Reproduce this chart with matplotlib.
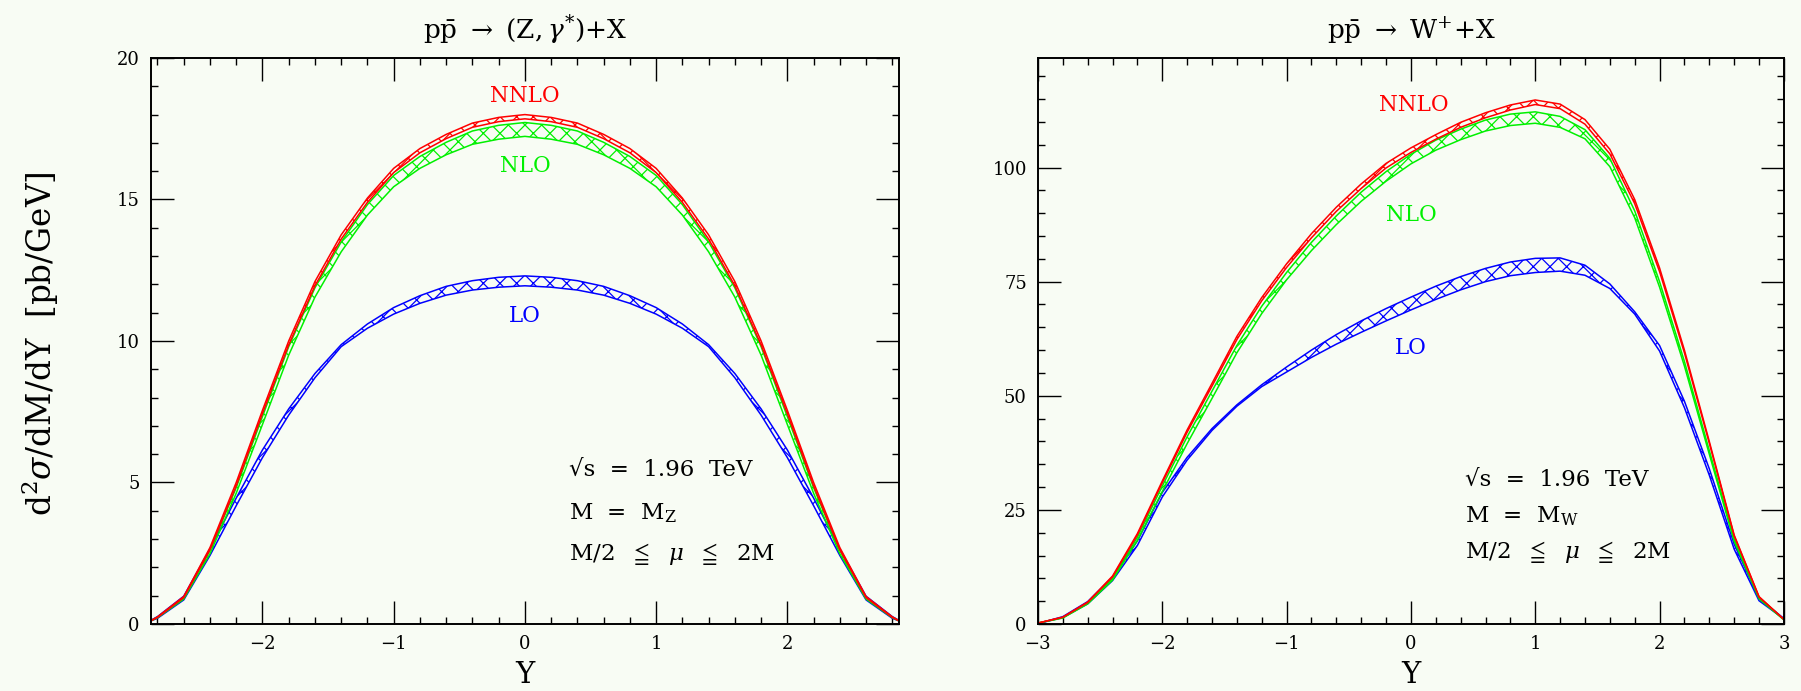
import matplotlib
matplotlib.use("Agg")
import matplotlib.pyplot as plt
from matplotlib.ticker import MultipleLocator

plt.rcParams['font.family'] = ['DejaVu Serif', 'DejaVu Sans']
plt.rcParams['mathtext.fontset'] = 'dejavuserif'
plt.rcParams['hatch.linewidth'] = 0.9

BG = '#f8fcf4'
RED, GREEN, BLUE = '#ff0000', '#00f000', '#0000ff'

# ---- Z / gamma* rapidity distribution (left panel) ----
z_y = [-2.85, -2.8, -2.6, -2.4, -2.2, -2.0, -1.8, -1.6, -1.4, -1.2, -1.0, -0.8, -0.6, -0.4, -0.2,
       0.0, 0.2, 0.4, 0.6, 0.8, 1.0, 1.2, 1.4, 1.6, 1.8, 2.0, 2.2, 2.4, 2.6, 2.8, 2.85]
z_nnlo_hi = [0.12, 0.25, 0.97, 2.7, 5.0, 7.55, 10.0, 12.1, 13.75, 15.05, 16.1, 16.8, 17.3, 17.7, 17.9,
             18.0, 17.9, 17.7, 17.3, 16.8, 16.1, 15.05, 13.75, 12.1, 10.0, 7.55, 5.0, 2.7, 0.97, 0.25, 0.12]
z_nnlo_lo = [0.11, 0.23, 0.93, 2.62, 4.88, 7.43, 9.86, 11.95, 13.6, 14.9, 15.95, 16.65, 17.15, 17.55, 17.75,
             17.85, 17.75, 17.55, 17.15, 16.65, 15.95, 14.9, 13.6, 11.95, 9.86, 7.43, 4.88, 2.62, 0.93, 0.23, 0.11]
z_nlo_hi = [0.12, 0.24, 0.93, 2.6, 4.82, 7.33, 9.8, 11.88, 13.5, 14.82, 15.85, 16.52, 17.02, 17.42, 17.62,
            17.72, 17.62, 17.42, 17.02, 16.52, 15.85, 14.82, 13.5, 11.88, 9.8, 7.33, 4.82, 2.6, 0.93, 0.24, 0.12]
z_nlo_lo = [0.11, 0.22, 0.88, 2.48, 4.62, 7.05, 9.5, 11.55, 13.15, 14.45, 15.45, 16.1, 16.58, 16.95, 17.13,
            17.23, 17.13, 16.95, 16.58, 16.1, 15.45, 14.45, 13.15, 11.55, 9.5, 7.05, 4.62, 2.48, 0.88, 0.22, 0.11]
z_lo_hi = [0.13, 0.26, 0.98, 2.65, 4.45, 6.15, 7.6, 8.85, 9.87, 10.6, 11.18, 11.6, 11.93, 12.13, 12.25,
           12.3, 12.25, 12.13, 11.93, 11.6, 11.18, 10.6, 9.87, 8.85, 7.6, 6.15, 4.45, 2.65, 0.98, 0.26, 0.13]
z_lo_lo = [0.11, 0.2, 0.85, 2.42, 4.18, 5.88, 7.38, 8.7, 9.8, 10.45, 10.95, 11.33, 11.62, 11.8, 11.9,
           11.95, 11.9, 11.8, 11.62, 11.33, 10.95, 10.45, 9.8, 8.7, 7.38, 5.88, 4.18, 2.42, 0.85, 0.2, 0.11]

# ---- W+ rapidity distribution (right panel) ----
w_y = [-3.0, -2.8, -2.6, -2.4, -2.2, -2.0, -1.8, -1.6, -1.4, -1.2, -1.0, -0.8, -0.6, -0.4, -0.2,
       0.0, 0.2, 0.4, 0.6, 0.8, 1.0, 1.2, 1.4, 1.6, 1.8, 2.0, 2.2, 2.4, 2.6, 2.8, 3.0]
w_nnlo_hi = [0.2, 1.5, 4.8, 10.5, 19.8, 31.3, 42.5, 52.7, 63.0, 71.5, 78.9, 85.5, 91.3, 96.4, 100.9,
             104.3, 107.2, 109.9, 112.0, 113.7, 114.8, 113.9, 110.5, 104.0, 93.0, 78.0, 60.0, 40.0, 19.5, 6.0, 1.0]
w_nnlo_lo = [0.2, 1.45, 4.7, 10.3, 19.5, 30.9, 42.0, 52.1, 62.3, 70.8, 78.1, 84.6, 90.4, 95.4, 99.9,
             103.3, 106.2, 108.8, 110.9, 112.6, 113.8, 112.9, 109.5, 103.0, 92.1, 77.2, 59.4, 39.6, 19.3, 5.9, 1.0]
w_nlo_hi = [0.2, 1.4, 4.6, 10.0, 19.0, 30.2, 41.0, 51.0, 61.0, 69.6, 77.0, 83.6, 89.4, 94.6, 99.1,
            102.9, 106.0, 108.4, 110.4, 111.7, 112.2, 111.2, 108.3, 102.0, 90.5, 75.0, 57.5, 38.0, 18.6, 5.8, 1.0]
w_nlo_lo = [0.2, 1.3, 4.4, 9.6, 18.3, 29.0, 39.5, 49.4, 59.4, 68.0, 75.4, 81.8, 87.5, 92.6, 97.0,
            100.8, 103.8, 106.1, 108.0, 109.2, 109.7, 108.8, 106.3, 100.2, 89.0, 73.8, 56.5, 37.2, 18.1, 5.5, 0.9]
w_lo_hi = [0.1, 1.6, 4.9, 10.3, 18.2, 28.8, 36.5, 42.8, 48.0, 52.4, 56.3, 60.0, 63.4, 66.4, 69.1,
           71.6, 74.0, 76.1, 77.9, 79.3, 80.1, 80.2, 78.6, 74.5, 68.4, 61.0, 48.8, 34.0, 17.5, 5.6, 1.2]
w_lo_lo = [0.1, 1.4, 4.4, 9.5, 17.2, 27.8, 35.9, 42.4, 47.7, 52.0, 55.2, 58.4, 61.3, 63.9, 66.4,
           68.8, 71.1, 73.2, 75.0, 76.3, 77.0, 77.3, 76.4, 73.5, 67.9, 59.8, 47.4, 32.6, 16.4, 5.1, 1.1]


def draw_band(ax, x, hi, lo, color):
    ax.fill_between(x, lo, hi, facecolor='none', edgecolor=color, hatch='xx', linewidth=0)
    ax.plot(x, hi, color=color, lw=1.1)
    ax.plot(x, lo, color=color, lw=1.1)


def style_axes(ax, xlim, ylim, xmaj, ymaj, ymin):
    ax.set_facecolor(BG)
    ax.set_xlim(*xlim)
    ax.set_ylim(*ylim)
    ax.xaxis.set_major_locator(MultipleLocator(xmaj))
    ax.xaxis.set_minor_locator(MultipleLocator(0.2))
    ax.yaxis.set_major_locator(MultipleLocator(ymaj))
    ax.yaxis.set_minor_locator(MultipleLocator(ymin))
    ax.tick_params(which='both', direction='in', top=True, right=True, width=1.0, labelsize=13)
    ax.tick_params(which='major', length=16.5, pad=8)
    ax.tick_params(which='minor', length=5)
    for s in ax.spines.values():
        s.set_linewidth(1.4)
    ax.set_xlabel('Y', fontsize=21, labelpad=6)


fig = plt.figure(figsize=(18.01, 6.91), dpi=100, facecolor=BG)
ax1 = fig.add_axes([0.0838, 0.097, 0.4153, 0.8191])
ax2 = fig.add_axes([0.5763, 0.097, 0.4142, 0.8191])

info_size = 16.5

# left panel
draw_band(ax1, z_y, z_lo_hi, z_lo_lo, BLUE)
draw_band(ax1, z_y, z_nlo_hi, z_nlo_lo, GREEN)
draw_band(ax1, z_y, z_nnlo_hi, z_nnlo_lo, RED)
style_axes(ax1, (-2.85, 2.85), (0, 20), 1, 5, 1)
ax1.set_title(r'$\mathrm{p\bar{p}}\ \rightarrow\ (\mathrm{Z},\gamma^{*})\mathrm{+X}$', fontsize=19, pad=14)
ax1.text(0, 18.65, 'NNLO', color=RED, fontsize=15.5, ha='center', va='center')
ax1.text(0, 16.2, 'NLO', color=GREEN, fontsize=15.5, ha='center', va='center')
ax1.text(0, 10.9, 'LO', color=BLUE, fontsize=15.5, ha='center', va='center')
ax1.text(0.559, 0.272, '√s  =  1.96  TeV', transform=ax1.transAxes, fontsize=info_size, va='center')
ax1.text(0.559, 0.196, r'M  =  M$_{\mathrm{Z}}$', transform=ax1.transAxes, fontsize=info_size, va='center')
ax1.text(0.559, 0.123, r'M/2  $\leqq$  $\mu$  $\leqq$  2M', transform=ax1.transAxes, fontsize=info_size,
         va='center')

# right panel
draw_band(ax2, w_y, w_lo_hi, w_lo_lo, BLUE)
draw_band(ax2, w_y, w_nlo_hi, w_nlo_lo, GREEN)
draw_band(ax2, w_y, w_nnlo_hi, w_nnlo_lo, RED)
style_axes(ax2, (-3, 3), (0, 124), 1, 25, 5)
ax2.set_title(r'$\mathrm{p\bar{p}}\ \rightarrow\ \mathrm{W^{+}}\mathrm{+X}$', fontsize=19, pad=14)
ax2.text(0.02, 113.7, 'NNLO', color=RED, fontsize=15.5, ha='center', va='center')
ax2.text(0.0, 89.6, 'NLO', color=GREEN, fontsize=15.5, ha='center', va='center')
ax2.text(0.0, 60.5, 'LO', color=BLUE, fontsize=15.5, ha='center', va='center')
ax2.text(0.572, 0.254, '√s  =  1.96  TeV', transform=ax2.transAxes, fontsize=info_size, va='center')
ax2.text(0.572, 0.190, r'M  =  M$_{\mathrm{W}}$', transform=ax2.transAxes, fontsize=info_size, va='center')
ax2.text(0.572, 0.127, r'M/2  $\leqq$  $\mu$  $\leqq$  2M', transform=ax2.transAxes, fontsize=info_size,
         va='center')

fig.text(40 / 1801, 1 - 344 / 691, r'd$^2\sigma$/dM/dY  [pb/GeV]', rotation=90,
         ha='center', va='center', fontsize=23.5)

fig.savefig('out.png', dpi=100, facecolor=BG)
